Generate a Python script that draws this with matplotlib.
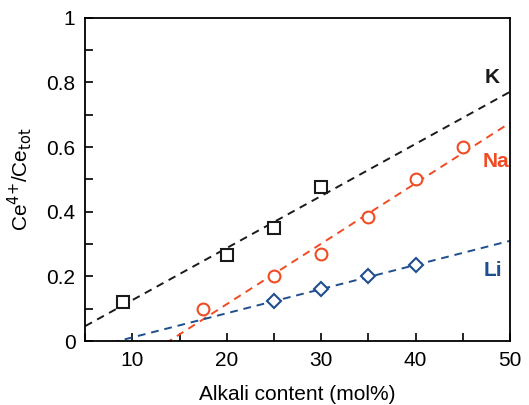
import numpy as np
import matplotlib
matplotlib.use("Agg")
import matplotlib.pyplot as plt

plt.rcParams['font.family'] = ['Liberation Sans', 'DejaVu Sans']

# measured points
k_x  = [9, 20, 25, 30]
k_y  = [0.12, 0.265, 0.35, 0.475]
na_x = [17.5, 25, 30, 35, 40, 45]
na_y = [0.10, 0.20, 0.27, 0.385, 0.50, 0.60]
li_x = [25, 30, 35, 40]
li_y = [0.123, 0.162, 0.200, 0.235]

# linear fits (slope, intercept)
k_fit  = [0.01611, -0.0345]
na_fit = [0.01870, -0.260]
li_fit = [0.00747, -0.0635]

c_k  = "#1a1a1a"
c_na = "#f04b23"
c_li = "#1f4e8f"

fig = plt.figure(figsize=(5.29, 4.05), dpi=100)
ax = fig.add_axes([0.161, 0.158, 0.803, 0.798])

xx = np.array([5, 50])
for fit, c in [(k_fit, c_k), (na_fit, c_na), (li_fit, c_li)]:
    ax.plot(xx, fit[0] * xx + fit[1], ls=(0, (4, 3)), color=c, lw=1.4, zorder=2)

ax.plot(k_x, k_y, "s", mfc="white", mec=c_k, ms=8.5, mew=1.5, zorder=3)
ax.plot(na_x, na_y, "o", mfc="white", mec=c_na, ms=8.5, mew=1.5, zorder=3)
ax.plot(li_x, li_y, "D", mfc="white", mec=c_li, ms=7, mew=1.5, zorder=3)

ax.text(48.1, 0.815, "K", color=c_k, fontsize=15, fontweight="bold", ha="center", va="center")
ax.text(48.5, 0.554, "Na", color=c_na, fontsize=15, fontweight="bold", ha="center", va="center")
ax.text(48.2, 0.217, "Li", color=c_li, fontsize=15, fontweight="bold", ha="center", va="center")

ax.set_xlim(5, 50)
ax.set_ylim(0, 1)
ax.set_xticks([10, 20, 30, 40, 50])
ax.set_xticks(np.arange(5, 50, 5), minor=True)
ax.set_yticks([0, 0.2, 0.4, 0.6, 0.8, 1])
ax.set_yticklabels(["0", "0.2", "0.4", "0.6", "0.8", "1"])
ax.set_yticks(np.arange(0.1, 1.0, 0.2), minor=True)
ax.tick_params(which="both", direction="in", top=False, right=False, labelsize=15, width=1.2)
ax.tick_params(which="major", length=6, pad=7)
ax.tick_params(which="minor", length=6)
for s in ax.spines.values():
    s.set_linewidth(1.3)

ax.set_xlabel("Alkali content (mol%)", fontsize=15, labelpad=11)
ax.set_ylabel("Ce$^{4{+}}$/Ce$_{\\mathrm{tot}}$", fontsize=15, labelpad=9)

fig.savefig("out.png", dpi=100)
